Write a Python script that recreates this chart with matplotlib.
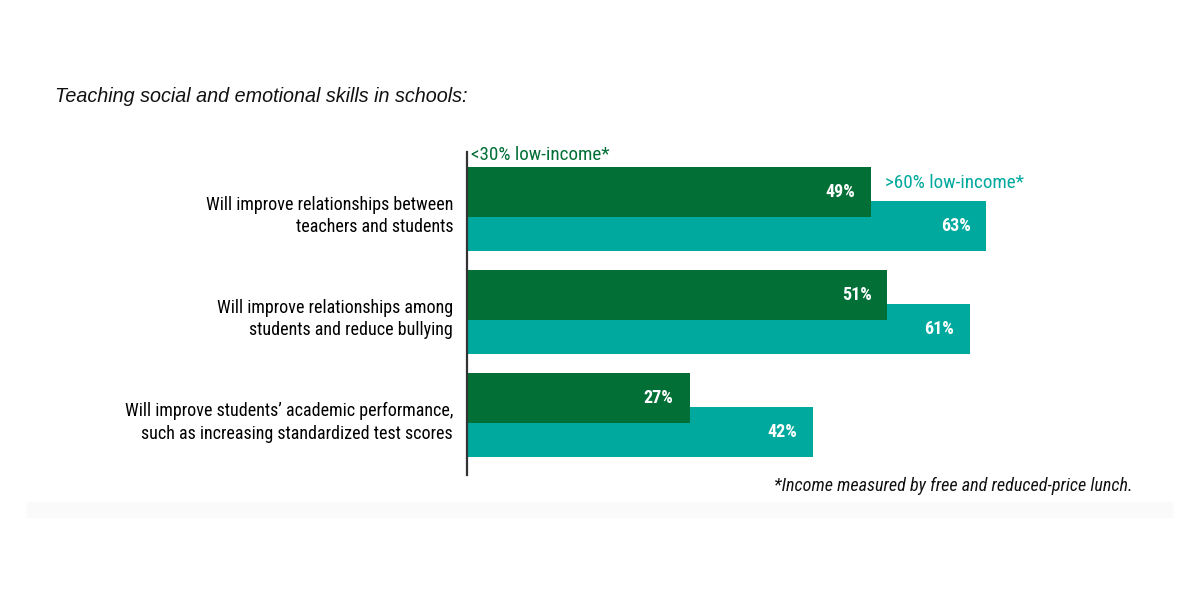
import matplotlib
matplotlib.use("Agg")
import matplotlib.pyplot as plt
from matplotlib.patches import Rectangle
import numpy as np

# data
categories = [
    "Will improve relationships between\nteachers and students",
    "Will improve relationships among\nstudents and reduce bullying",
    "Will improve students\u2019 academic performance,\nsuch as increasing standardized test scores",
]
low_income_30 = [49, 51, 27]   # <30% low-income schools
low_income_60 = [63, 61, 42]   # >60% low-income schools
series_names = ["<30% low-income*", ">60% low-income*"]

DARK = "#026f37"
TEAL = "#00a99d"
NARROW = ["Liberation Sans Narrow", "Roboto Condensed", "DejaVu Sans Condensed", "Roboto", "DejaVu Sans"]

fig = plt.figure(figsize=(12, 6), dpi=100)
fig.patch.set_facecolor("white")

# axes placed in pixel units: y axis line at x=467, from y=152 to 475
px_per_pct = 8.245
ax_left, ax_w = 467, 720
ax = fig.add_axes([ax_left / 1200, (600 - 475) / 600, ax_w / 1200, 323 / 600])
ax.set_xlim(0, ax_w / px_per_pct)
ax.set_ylim(2.58, -0.553)

y = np.arange(len(categories))
off = 0.165
h = 0.485
ax.barh(y + off, low_income_60, height=h, color=TEAL, zorder=1)
ax.barh(y - off, low_income_30, height=h, color=DARK, zorder=2)

for i in range(len(categories)):
    ax.annotate(f"{low_income_30[i]}%", (low_income_30[i], y[i] - off),
                xytext=(-16, 0), textcoords="offset pixels", ha="right", va="center",
                color="white", fontsize=13, fontweight="bold", family=NARROW, zorder=3)
    ax.annotate(f"{low_income_60[i]}%", (low_income_60[i], y[i] + off),
                xytext=(-16, 0), textcoords="offset pixels", ha="right", va="center",
                color="white", fontsize=13, fontweight="bold", family=NARROW, zorder=3)

# series labels
ax.annotate(series_names[0], (0, -0.553), xytext=(4, -3), textcoords="offset pixels",
            ha="left", va="center", color=DARK, fontsize=13.8, family=NARROW)
ax.annotate(series_names[1], (low_income_30[0], y[0] - off - h / 2), xytext=(14, -16),
            textcoords="offset pixels", ha="left", va="center", color=TEAL,
            fontsize=13.8, family=NARROW)

ax.set_yticks(y + 0.03)
ax.set_yticklabels(categories, fontsize=13, family=NARROW, linespacing=1.3)
ax.tick_params(axis="y", length=0, pad=10)
ax.set_xticks([])
for s in ["top", "right", "bottom"]:
    ax.spines[s].set_visible(False)
ax.spines["left"].set_color("#333333")
ax.spines["left"].set_linewidth(1.6)

fig.text(55 / 1200, 1 - 96 / 600, "Teaching social and emotional skills in schools:",
         fontsize=14.2, style="italic", family=["Liberation Sans", "DejaVu Sans"],
         ha="left", va="center", color="#111111")
fig.text(1133 / 1200, 1 - 486 / 600, "*Income measured by free and reduced-price lunch.",
         fontsize=13.1, style="italic", family=NARROW, ha="right", va="center", color="#111111")

# faint band at the bottom
fig.patches.append(Rectangle((27 / 1200, 1 - 517 / 600), 1145 / 1200, 15 / 600,
                             transform=fig.transFigure, color="#fafafa", zorder=0))

fig.savefig("out.png", dpi=100, facecolor="white")
